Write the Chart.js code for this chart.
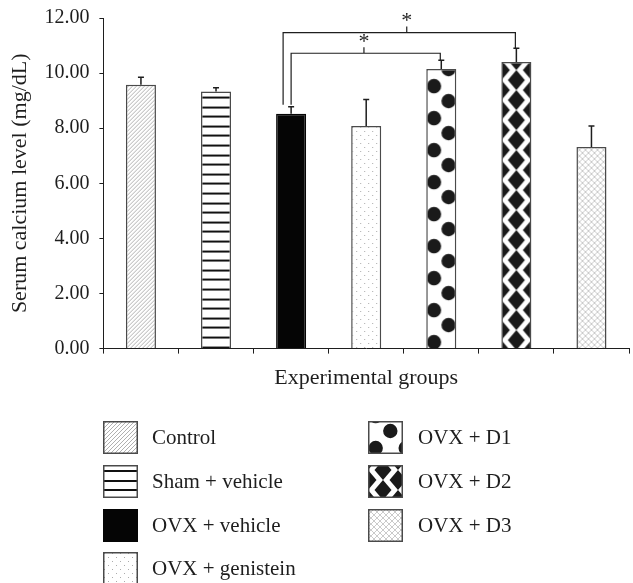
<!DOCTYPE html>
<html><head><meta charset="utf-8">
<script src="https://cdn.jsdelivr.net/npm/chart.js@4.4.0/dist/chart.umd.min.js"></script>
<style>html,body{margin:0;padding:0;background:#fff;}#wrap{width:633px;height:583px;}</style>
</head><body><div id="wrap"><canvas id="c" width="633" height="583"></canvas></div>
<script>
const categories = ['Control', 'Sham + vehicle', 'OVX + vehicle', 'OVX + genistein', 'OVX + D1', 'OVX + D2', 'OVX + D3'];
const meanValues = [9.58, 9.33, 8.52, 8.08, 10.15, 10.40, 7.32];
const errorValues = [0.27, 0.14, 0.26, 0.96, 0.32, 0.50, 0.76];
const yTickValues = [0, 2, 4, 6, 8, 10, 12];
const yTickLabels = ['0.00', '2.00', '4.00', '6.00', '8.00', '10.00', '12.00'];
const comparisons = [
  {from: 2, to: 5, level: 11.47, star: 3.54, legShift: -8},
  {from: 2, to: 4, level: 10.72, star: 2.97, legShift: 0}
];
const xTitle = 'Experimental groups';
const yTitle = 'Serum calcium level (mg/dL)';

const FONT = "'Liberation Serif', 'Times New Roman', serif";
const INK = '#1e1e1e';

function tile(w, h, draw) {
  const c = document.createElement('canvas');
  c.width = w; c.height = h;
  const g = c.getContext('2d');
  g.fillStyle = '#fff'; g.fillRect(0, 0, w, h);
  draw(g, w, h);
  return c;
}
function diamond(g, cx, cy, hw, hh) {
  g.beginPath(); g.moveTo(cx, cy - hh); g.lineTo(cx + hw, cy); g.lineTo(cx, cy + hh); g.lineTo(cx - hw, cy); g.closePath(); g.fill();
}
const tileDefs = [
  {anchor: 'top', c: tile(4, 4, (g, w, h) => { g.strokeStyle = '#9c9c9c'; g.lineWidth = 0.8; g.beginPath(); for (const o of [-w, 0, w]) { g.moveTo(o, h); g.lineTo(o + w, 0); } g.stroke(); })},
  {anchor: 'top', c: tile(30, 48, (g) => { g.fillStyle = '#111'; for (let k = 0; k < 5; k++) { g.fillRect(0, Math.round(5 + k * 9.6) % 48, 30, 2); } })},
  {anchor: 'top', c: tile(4, 4, (g, w, h) => { g.fillStyle = '#050505'; g.fillRect(0, 0, w, h); })},
  {anchor: 'top', c: tile(8, 8, (g) => { g.fillStyle = '#acacac'; g.fillRect(1, 1, 1, 1); g.fillRect(5, 5, 1, 1); })},
  {anchor: 'bottom', c: tile(30, 32, (g, w, h) => { g.fillStyle = '#1a1a1a'; for (const [x, y] of [[7.7, 26], [22.3, 9]]) { for (const dy of [-h, 0, h]) { g.beginPath(); g.arc(x, y + dy, 7.2, 0, Math.PI * 2); g.fill(); } } })},
  {anchor: 'bottom', c: tile(30, 20, (g, w, h) => { g.fillStyle = '#1a1a1a'; for (const [x, y] of [[15, 12], [0, 2], [30, 2]]) { for (const dy of [-h, 0, h]) diamond(g, x, y + dy, 8.5, 10); } })},
  {anchor: 'top', c: tile(6, 6, (g, w, h) => { g.strokeStyle = '#b3b3b3'; g.lineWidth = 0.7; g.beginPath(); for (const o of [-w, 0, w]) { g.moveTo(o, h); g.lineTo(o + w, 0); g.moveTo(o, 0); g.lineTo(o + w, h); } g.stroke(); })}
];
const ctx0 = document.getElementById('c').getContext('2d');
const barPatterns = tileDefs.map(t => ctx0.createPattern(t.c, 'repeat'));
const legendPatterns = tileDefs.map(t => ctx0.createPattern(t.c, 'repeat'));
const borderColors = categories.map((_, i) => i === 2 ? '#050505' : '#4a4a4a');

const anchorPlugin = {
  id: 'anchor',
  beforeDatasetsDraw(chart) {
    chart.getDatasetMeta(0).data.forEach((el, i) => {
      const left = el.x - el.width / 2;
      const ty = tileDefs[i].anchor === 'top' ? el.y : el.base;
      barPatterns[i].setTransform(new DOMMatrix([1, 0, 0, 1, left, ty]));
    });
  }
};

const errorPlugin = {
  id: 'errors',
  afterDatasetsDraw(chart) {
    const {ctx} = chart; const y = chart.scales.y;
    ctx.save(); ctx.strokeStyle = INK; ctx.lineWidth = 1.5;
    chart.getDatasetMeta(0).data.forEach((el, i) => {
      const top = y.getPixelForValue(meanValues[i] + errorValues[i]);
      ctx.beginPath(); ctx.moveTo(el.x, el.y); ctx.lineTo(el.x, top);
      ctx.moveTo(el.x - 3, top); ctx.lineTo(el.x + 3, top); ctx.stroke();
    });
    ctx.restore();
  }
};

const bracketPlugin = {
  id: 'brackets',
  afterDatasetsDraw(chart) {
    const {ctx} = chart; const x = chart.scales.x, y = chart.scales.y;
    ctx.save(); ctx.strokeStyle = INK; ctx.lineWidth = 1.2;
    ctx.fillStyle = INK; ctx.font = '22px ' + FONT; ctx.textAlign = 'center'; ctx.textBaseline = 'middle';
    comparisons.forEach(c => {
      const lx = x.getPixelForValue(c.from) + c.legShift;
      const rx = x.getPixelForValue(c.to) - 1;
      const ly = y.getPixelForValue(c.level);
      const lb = y.getPixelForValue(meanValues[c.from] + errorValues[c.from]) - 2;
      const rb = y.getPixelForValue(meanValues[c.to] + errorValues[c.to]);
      const sx = x.getPixelForValue(c.star);
      ctx.beginPath();
      ctx.moveTo(lx, lb); ctx.lineTo(lx, ly); ctx.lineTo(rx, ly); ctx.lineTo(rx, rb);
      ctx.moveTo(sx, ly); ctx.lineTo(sx, ly - 6);
      ctx.stroke();
      ctx.fillText('*', sx, ly - 11);
    });
    ctx.restore();
  }
};

const legendPlugin = {
  id: 'customLegend',
  afterDraw(chart) {
    const {ctx} = chart;
    const cols = [{bx: 103, tx: 152}, {bx: 368, tx: 418}];
    const rows = [421, 465, 509, 552];
    ctx.save();
    ctx.font = '21px ' + FONT; ctx.textBaseline = 'middle'; ctx.textAlign = 'left';
    categories.forEach((name, i) => {
      const col = i < 4 ? cols[0] : cols[1];
      const by = rows[i < 4 ? i : i - 4];
      const bw = 35, bh = 33;
      const ty = tileDefs[i].anchor === 'top' ? by : by + bh;
      legendPatterns[i].setTransform(new DOMMatrix([1, 0, 0, 1, col.bx, ty]));
      ctx.fillStyle = legendPatterns[i];
      ctx.fillRect(col.bx, by, bw, bh);
      if (i !== 2) { ctx.strokeStyle = '#4a4a4a'; ctx.lineWidth = 1.5; ctx.strokeRect(col.bx + 0.75, by + 0.75, bw - 1.5, bh - 1.5); }
      ctx.fillStyle = INK;
      ctx.fillText(name, col.tx, by + bh / 2 + 1);
    });
    ctx.restore();
  }
};

new Chart(document.getElementById('c'), {
  type: 'bar',
  data: {
    labels: categories,
    datasets: [{
      data: meanValues,
      backgroundColor: barPatterns,
      borderColor: borderColors,
      borderWidth: 1.5,
      borderSkipped: 'bottom',
      barPercentage: 0.4,
      categoryPercentage: 1.0
    }]
  },
  options: {
    responsive: false,
    animation: false,
    events: [],
    layout: {padding: {top: 18, right: 4, bottom: 192, left: 0}},
    plugins: {legend: {display: false}, tooltip: {enabled: false}},
    scales: {
      x: {
        offset: true,
        grid: {offset: true, drawOnChartArea: false, drawTicks: true, tickLength: 5, color: INK, lineWidth: 1},
        border: {display: true, color: INK, width: 1},
        ticks: {display: false},
        title: {display: true, text: xTitle, color: INK, font: {family: FONT, size: 22}, padding: {top: 11, bottom: 0}}
      },
      y: {
        min: 0, max: 12,
        afterBuildTicks(scale) { scale.ticks = yTickValues.map(v => ({value: v})); },
        afterFit(scale) { scale.paddingTop = 0; },
        grid: {drawOnChartArea: false, drawTicks: true, tickLength: 4, color: INK, lineWidth: 1},
        border: {display: true, color: INK, width: 1},
        ticks: {color: INK, font: {family: FONT, size: 20}, padding: 10,
          callback: (v) => yTickLabels[yTickValues.indexOf(v)]},
        title: {display: true, text: yTitle, color: INK, font: {family: FONT, size: 22}, padding: {top: 7, bottom: 1}}
      }
    }
  },
  plugins: [anchorPlugin, errorPlugin, bracketPlugin, legendPlugin]
});
</script></body></html>
